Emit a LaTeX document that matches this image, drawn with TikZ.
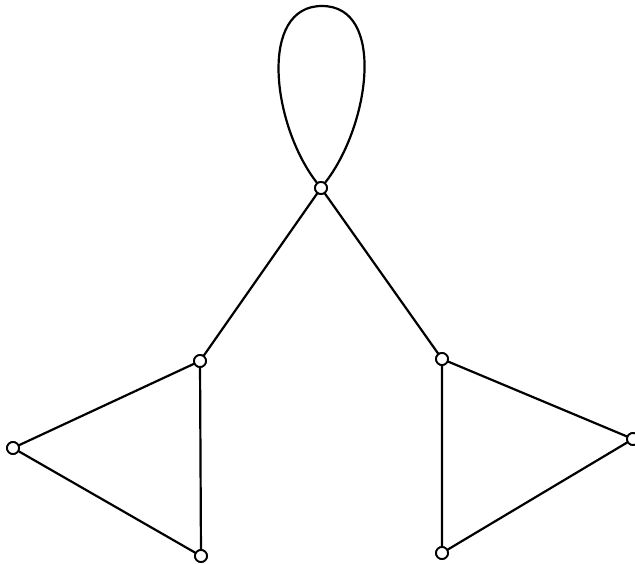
\documentclass[tikz,border=0pt]{standalone}
\usetikzlibrary{positioning}
\begin{document}
\begin{tikzpicture}[x=1pt, y=-1pt, line join=round, line cap=round, line width=2.2pt,
	vtx/.style={circle, draw, fill=white, inner sep=0pt, minimum size=12pt, line width=1.8pt}]
	% Khung hình
	\useasboundingbox (0,0) rectangle (635,564);
	
	% Các đỉnh
	\node[vtx] (T) at (321,188) {};
	\node[vtx] (L) at (200,361) {};
	\node[vtx] (R) at (442,359) {};
	\node[vtx] (LL) at (13,448) {};
	\node[vtx] (LB) at (201,556) {};
	\node[vtx] (RB) at (442,553) {};
	\node[vtx] (RR) at (633,439) {};
	\coordinate (A) at (322,6);
	
	% Vòng khuyên
	\draw (T) .. controls (272,125) and (258,6) .. (A) .. controls (386,6) and (370,125) .. (T);
	
	% Các cạnh
	\draw (T) -- (L);
	\draw (T) -- (R);
	\draw (L) -- (LL) -- (LB) -- (L);
	\draw (R) -- (RR) -- (RB) -- (R);
	
	% Vẽ lại các đỉnh
	\foreach \v in {T,L,R,LL,LB,RB,RR}
		\node[vtx] at (\v) {};
\end{tikzpicture}
\end{document}
